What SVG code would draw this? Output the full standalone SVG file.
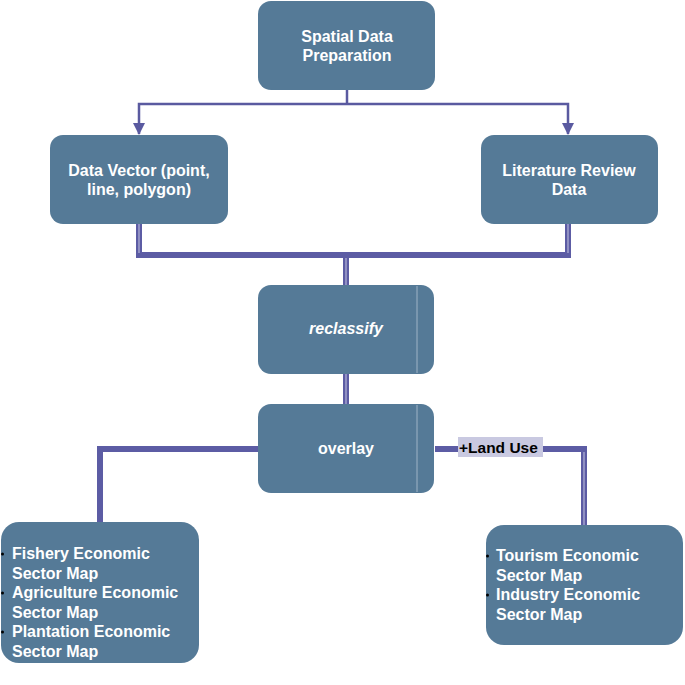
<svg xmlns="http://www.w3.org/2000/svg" width="685" height="685" viewBox="0 0 685 685">
<defs>
<style>
.box{fill:#557a97;}
.div{stroke:#9fb3c6;stroke-width:1;fill:none;}
.t{font-family:"Liberation Sans",Arial,sans-serif;font-weight:bold;font-size:16px;fill:#ffffff;}
.c{text-anchor:middle;}
.thin{stroke:#5a5aa0;stroke-width:2.5;fill:none;}
.thick{stroke:#5c5ca4;stroke-width:6;fill:none;}
.core{stroke:#b4b4d8;stroke-width:1.2;fill:none;}
.bul{fill:#000000;}
.lbl{font-family:"Liberation Sans",Arial,sans-serif;font-weight:bold;font-size:15.5px;fill:#000000;}
</style>
<marker id="arr" viewBox="0 0 12 12" refX="11" refY="6" markerWidth="12" markerHeight="12" markerUnits="userSpaceOnUse" orient="auto">
<path d="M0,0 L12,6 L0,12 Z" fill="#5a5aa0"/>
</marker>
</defs>
<rect width="685" height="685" fill="#ffffff"/>
<g id="connectors">
<path class="thin" d="M347,90 V104"/>
<path class="thin" d="M347,104 H139 V134" marker-end="url(#arr)"/>
<path class="thin" d="M347,104 H568 V134" marker-end="url(#arr)"/>
<path class="thick" d="M139,224 V255 H568 V224"/>
<path class="core" d="M139,224 V253"/>
<path class="core" d="M568,224 V253"/>
<path class="thick" d="M346,255 V285"/>
<path class="core" d="M346,258 V285"/>
<path class="thick" d="M346,374 V405"/>
<path class="core" d="M346,374 V405"/>
<path class="thick" d="M258,449 H100 V522"/>
<path class="thick" d="M435,449 H584 V526"/>
<path class="core" d="M584,452 V526"/>
<g id="label-landuse">
<rect x="458" y="437" width="85" height="20" fill="#c9c9e1"/>
<text class="lbl" x="459" y="452.5">+Land Use</text>
</g>
</g>
<g id="node-spatial">
<rect class="box" x="258" y="1" width="177" height="89" rx="13"/>
<text class="t c" x="347" y="42">Spatial Data</text>
<text class="t c" x="347" y="61">Preparation</text>
</g>
<g id="node-vector">
<rect class="box" x="50" y="135" width="178" height="89" rx="13"/>
<text class="t c" x="139" y="176">Data Vector (point,</text>
<text class="t c" x="139" y="195">line, polygon)</text>
</g>
<g id="node-literature">
<rect class="box" x="481" y="135" width="177" height="89" rx="13"/>
<text class="t c" x="569" y="176">Literature Review</text>
<text class="t c" x="569" y="195">Data</text>
</g>
<g id="node-reclassify">
<rect class="box" x="258" y="285" width="176" height="89" rx="13"/>
<line class="div" x1="417" y1="286" x2="417" y2="373"/>
<text class="t c" x="346" y="334" font-style="italic">reclassify</text>
</g>
<g id="node-overlay">
<rect class="box" x="258" y="404" width="176" height="89" rx="13"/>
<line class="div" x1="417" y1="405" x2="417" y2="492"/>
<text class="t c" x="346" y="454">overlay</text>
</g>
<g id="node-left">
<rect class="box" x="1" y="522" width="198" height="141" rx="18"/>
<circle class="bul" cx="2.5" cy="554" r="1.5"/>
<circle class="bul" cx="2.5" cy="593" r="1.5"/>
<circle class="bul" cx="2.5" cy="632" r="1.5"/>
<text class="t" x="12" y="559">Fishery Economic</text>
<text class="t" x="12" y="578.5">Sector Map</text>
<text class="t" x="12" y="598">Agriculture Economic</text>
<text class="t" x="12" y="617.5">Sector Map</text>
<text class="t" x="12" y="637">Plantation Economic</text>
<text class="t" x="12" y="656.5">Sector Map</text>
</g>
<g id="node-right">
<rect class="box" x="486" y="525" width="197" height="120" rx="18"/>
<circle class="bul" cx="487.5" cy="556" r="1.5"/>
<circle class="bul" cx="487.5" cy="595" r="1.5"/>
<text class="t" x="496" y="561">Tourism Economic</text>
<text class="t" x="496" y="580.5">Sector Map</text>
<text class="t" x="496" y="600">Industry Economic</text>
<text class="t" x="496" y="619.5">Sector Map</text>
</g>
</svg>
